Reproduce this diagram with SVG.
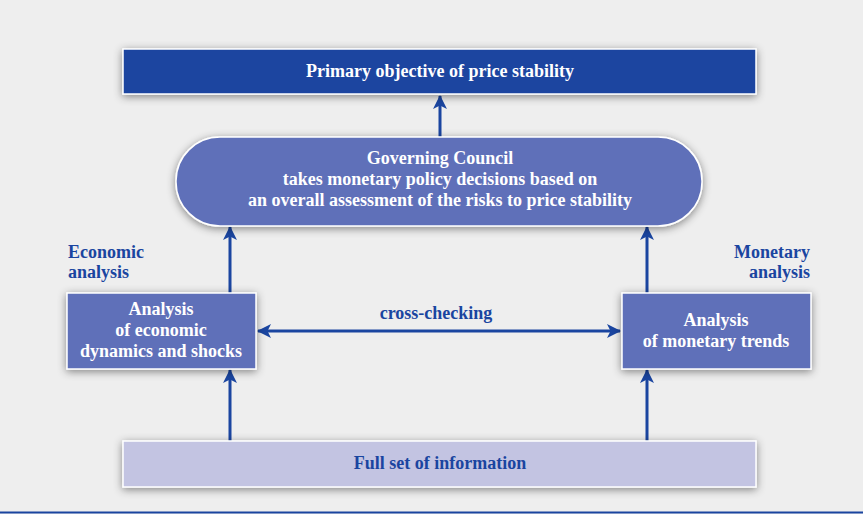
<svg xmlns="http://www.w3.org/2000/svg" width="863" height="514" viewBox="0 0 863 514">
<style>
.t{font-family:"Liberation Serif","Times New Roman",serif;font-weight:bold;font-size:18px;text-anchor:middle}
.w{fill:#ffffff}
.b{fill:#1a45a0}
.box{stroke:#ffffff;stroke-width:1.5}
.c{stroke:#1a45a0;stroke-width:3;fill:none}
</style>
<defs>
<filter id="sh" x="-10%" y="-30%" width="120%" height="160%">
<feDropShadow dx="0" dy="2" stdDeviation="4" flood-color="#000" flood-opacity="0.45"/>
</filter>
<marker id="ah" viewBox="0 0 14 14" refX="13" refY="7" markerWidth="14" markerHeight="14" markerUnits="userSpaceOnUse" orient="auto-start-reverse">
<path d="M0,0 L14,7 L0,14 L3.5,7 Z" fill="#1a45a0"/>
</marker>
</defs>
<rect x="0" y="0" width="863" height="514" fill="#eeeeee"/>
<line x1="0" y1="512.5" x2="863" y2="512.5" stroke="#1a45a0" stroke-width="2"/>

<g id="connectors">
<line class="c" x1="440" y1="137" x2="440" y2="96" marker-end="url(#ah)"/>
<line class="c" x1="230" y1="293" x2="230" y2="227" marker-end="url(#ah)"/>
<line class="c" x1="647" y1="293" x2="647" y2="227" marker-end="url(#ah)"/>
<line class="c" x1="230" y1="441" x2="230" y2="370" marker-end="url(#ah)"/>
<line class="c" x1="647" y1="441" x2="647" y2="370" marker-end="url(#ah)"/>
<line class="c" x1="258" y1="331" x2="620" y2="331" marker-start="url(#ah)" marker-end="url(#ah)"/>
<text class="t b" x="436" y="319">cross-checking</text>
</g>

<g id="objective">
<rect class="box" x="123" y="49" width="633" height="45" fill="#1a45a0" filter="url(#sh)"/>
<text class="t w" x="440" y="77">Primary objective of price stability</text>
</g>

<g id="council">
<rect class="box" x="176" y="137" width="526" height="89" rx="44" ry="44" fill="#5f70b9" filter="url(#sh)"/>
<text class="t w" x="440" y="164">Governing Council</text>
<text class="t w" x="440" y="185">takes monetary policy decisions based on</text>
<text class="t w" x="440" y="206">an overall assessment of the risks to price stability</text>
</g>

<g id="economic-label">
<text class="t b" x="68" y="258" style="text-anchor:start">Economic</text>
<text class="t b" x="68" y="278" style="text-anchor:start">analysis</text>
</g>

<g id="monetary-label">
<text class="t b" x="810" y="258" style="text-anchor:end">Monetary</text>
<text class="t b" x="810" y="278" style="text-anchor:end">analysis</text>
</g>

<g id="economic">
<rect class="box" x="67" y="293" width="189" height="76" fill="#5f70b9" filter="url(#sh)"/>
<text class="t w" x="161" y="315">Analysis</text>
<text class="t w" x="161" y="336">of economic</text>
<text class="t w" x="161" y="357">dynamics and shocks</text>
</g>

<g id="monetary">
<rect class="box" x="622" y="293" width="189" height="76" fill="#5f70b9" filter="url(#sh)"/>
<text class="t w" x="716" y="326">Analysis</text>
<text class="t w" x="716" y="347">of monetary trends</text>
</g>

<g id="information">
<rect class="box" x="123" y="441" width="633" height="46" fill="#c3c4e2" filter="url(#sh)"/>
<text class="t b" x="440" y="469">Full set of information</text>
</g>
</svg>
